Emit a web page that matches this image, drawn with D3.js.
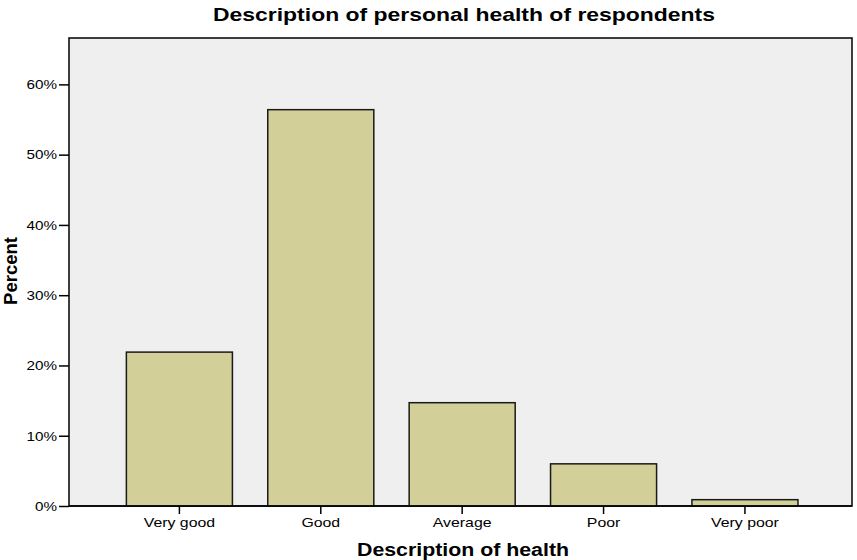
<!DOCTYPE html>
<html><head><meta charset="utf-8">
<script src="https://cdn.jsdelivr.net/npm/d3@7"></script>
<style>body{margin:0;background:#fff}</style>
</head><body>
<svg id="c" width="857" height="560"></svg>
<script>
const categories = ["Very good", "Good", "Average", "Poor", "Very poor"];
const percents = [21.9, 56.4, 14.7, 6.0, 0.9];
const yTicks = [0, 10, 20, 30, 40, 50, 60];

const svg = d3.select("#c");
const L = 69, R = 852, T = 38, B = 506;
const font = "'Liberation Sans', Arial, sans-serif";

const x = d3.scaleBand().domain(categories).range([L, R]).paddingInner(0.25).paddingOuter(0.394).align(0.515);
const y = d3.scaleLinear().domain([0, 66.6]).range([B, T]);

svg.append("rect").attr("x", L).attr("y", T).attr("width", R - L).attr("height", B - T)
  .attr("fill", "#efefef").attr("stroke", "#000").attr("stroke-width", 1.5);

svg.selectAll("rect.bar").data(percents).join("rect").attr("class", "bar")
  .attr("x", (d, i) => x(categories[i])).attr("width", x.bandwidth())
  .attr("y", d => y(d)).attr("height", d => y(0) - y(d))
  .attr("fill", "#d3cf98").attr("stroke", "#1a1a1a").attr("stroke-width", 1.5);

const ysx = 1.13;
const ya = d3.axisLeft(y).tickValues(yTicks).tickFormat(d => d + "%").tickSize(10).tickPadding(2);
const gy = svg.append("g").attr("transform", `translate(${L},0)`).call(ya);
gy.select(".domain").remove();
gy.selectAll("line").attr("stroke", "#000").attr("stroke-width", 1.5);
gy.selectAll("text").attr("font-family", font).attr("font-size", 13.5).attr("fill", "#000")
  .attr("x", -12 / ysx).attr("transform", `scale(${ysx},1)`);

const xsx = 1.22;
const xa = d3.axisBottom(x).tickSize(8).tickPadding(4);
const gx = svg.append("g").attr("transform", `translate(0,${B})`).call(xa);
gx.select(".domain").remove();
gx.selectAll("line").attr("stroke", "#000").attr("stroke-width", 1.5);
gx.selectAll("text").attr("font-family", font).attr("font-size", 13).attr("fill", "#000")
  .attr("transform", `scale(${xsx},1)`);

svg.append("line").attr("x1", L).attr("x2", R).attr("y1", B).attr("y2", B).attr("stroke", "#000").attr("stroke-width", 1.5);

svg.append("text").attr("x", 464).attr("y", 20.5).attr("text-anchor", "middle")
  .attr("font-family", font).attr("font-weight", "bold").attr("font-size", 18.5)
  .attr("textLength", 502).attr("lengthAdjust", "spacingAndGlyphs")
  .text("Description of personal health of respondents");
svg.append("text").attr("x", 463).attr("y", 556).attr("text-anchor", "middle")
  .attr("font-family", font).attr("font-weight", "bold").attr("font-size", 18)
  .attr("textLength", 212).attr("lengthAdjust", "spacingAndGlyphs")
  .text("Description of health");
svg.append("text").attr("transform", `translate(17,271) rotate(-90)`).attr("text-anchor", "middle")
  .attr("font-family", font).attr("font-weight", "bold").attr("font-size", 18.5)
  .text("Percent");
</script>
</body></html>
